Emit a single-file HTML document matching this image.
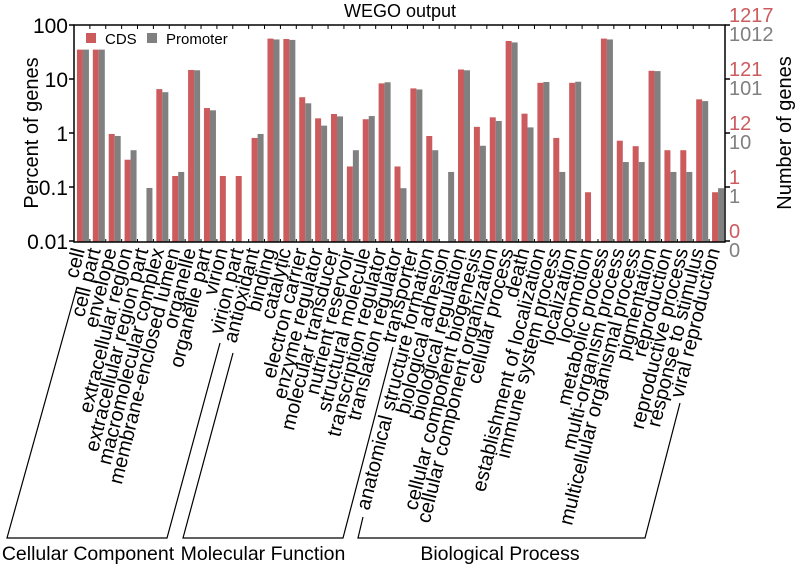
<!DOCTYPE html>
<html><head><meta charset="utf-8"><style>
body{margin:0;background:#fff;}
svg{display:block;font-family:"Liberation Sans",Arial,sans-serif;}
</style></head><body>
<svg id="chart" width="798" height="566" viewBox="0 0 798 566" xmlns="http://www.w3.org/2000/svg">
<text x="400" y="17" font-size="18" text-anchor="middle">WEGO output</text>
<text transform="translate(38,133) rotate(-90)" font-size="20" text-anchor="middle">Percent of genes</text>
<text transform="translate(791,133) rotate(-90)" font-size="20" text-anchor="middle">Number of genes</text>
<g>
<rect x="86" y="33" width="10" height="10" fill="#cc5b5e"/>
<text x="105" y="44" font-size="15">CDS</text>
<rect x="147" y="33" width="10" height="10" fill="#808080"/>
<text x="166" y="44" font-size="15">Promoter</text>
</g>
<g id="bars"></g>
<g id="axes"></g>
<g id="labels"></g>
<g fill="none" stroke="#000" stroke-width="1.2">
<polyline points="77,287 7,538 167,538 220,343"/>
<polyline points="233,353 183,538 343,538 393,347"/>
<polyline points="363,517 358,538 645,538 680,403"/>
</g>
<text x="88" y="560" font-size="19.5" text-anchor="middle">Cellular Component</text>
<text x="263" y="560" font-size="19.5" text-anchor="middle">Molecular Function</text>
<text x="500" y="560" font-size="19.5" text-anchor="middle">Biological Process</text>
</svg>
<script>
const categories=["cell","cell part","envelope","extracellular region","extracellular region part","macromolecular complex","membrane-enclosed lumen","organelle","organelle part","virion","virion part","antioxidant","binding","catalytic","electron carrier","enzyme regulator","molecular transducer","nutrient reservoir","structural molecule","transcription regulator","translation regulator","transporter","anatomical structure formation","biological adhesion","biological regulation","cellular component biogenesis","cellular component organization","cellular process","death","establishment of localization","immune system process","localization","locomotion","metabolic process","multi-organism process","multicellular organismal process","pigmentation","reproduction","reproductive process","response to stimulus","viral reproduction"];
const cdsValues=[35,35,0.96,0.32,0,6.5,0.16,14.7,2.9,0.16,0.16,0.81,56,55,4.6,1.87,2.25,0.24,1.8,8.3,0.24,6.7,0.88,0,15,1.3,1.95,50.6,2.28,8.5,0.81,8.5,0.08,56,0.72,0.57,14.2,0.48,0.48,4.2,0.08];
const promoterValues=[35,35,0.88,0.48,0.096,5.7,0.19,14.5,2.63,0,0,0.96,54,53,3.55,1.37,2.03,0.48,2.06,8.7,0.095,6.4,0.48,0.19,14.5,0.58,1.67,47.6,1.27,8.8,0.19,8.9,0,54,0.29,0.29,14,0.19,0.19,3.9,0.095];
const yTicks=[100,10,1,0.1,0.01];
const yTickLabels=["100","10","1","0.1","0.01"];
const cdsCountLabels=["1217","121","12","1","0"];
const promoterCountLabels=["1012","101","10","1","0"];
const NS="http://www.w3.org/2000/svg";
const X0=74,X1=725,YB=242;
const pitch=(X1-X0)/categories.length;
function xc(i){return X0+(i+0.5)*pitch;}
function y(v){return 133-54*Math.log10(v);}
function mk(tag,attrs,parent){const e=document.createElementNS(NS,tag);for(const k in attrs)e.setAttribute(k,attrs[k]);parent.appendChild(e);return e;}
const bars=document.getElementById('bars'),axes=document.getElementById('axes'),labels=document.getElementById('labels');
categories.forEach((c,i)=>{
  const cx=xc(i);
  if(cdsValues[i]>0){const yy=Math.max(y(cdsValues[i]),25);
    const r=mk('rect',{x:cx-5,y:yy,width:6,height:YB-yy,fill:'#cc5b5e'},bars);
    
    }
  if(promoterValues[i]>0){const yy=Math.max(y(promoterValues[i]),25);
    const r=mk('rect',{x:cx+1,y:yy,width:6,height:YB-yy,fill:'#808080'},bars);
    
    }
  const t=mk('text',{transform:`translate(${cx+3},250) rotate(-76)`,'font-size':'20','text-anchor':'end'},labels);
  t.textContent=c;
  
  
  mk('line',{x1:X0+i*pitch,x2:X0+i*pitch,y1:25,y2:29,stroke:'#000'},axes);
  mk('line',{x1:X0+i*pitch,x2:X0+i*pitch,y1:YB,y2:YB-3,stroke:'#000'},axes);
});
const frame=mk('rect',{x:X0,y:25,width:X1-X0,height:YB-25,fill:'none',stroke:'#000','stroke-width':1.5},axes);


yTicks.forEach((v,k)=>{
  const yy=y(v);
  mk('line',{x1:X0-5,x2:X0,y1:yy,y2:yy,stroke:'#000','stroke-width':1.5},axes);
  mk('line',{x1:X1,x2:X1+5,y1:yy,y2:yy,stroke:'#000','stroke-width':1.5},axes);
  const t=mk('text',{x:X0-6,y:yy+8,'font-size':'21','text-anchor':'end'},axes);
  t.textContent=yTickLabels[k];
  
  
  const a=mk('text',{x:X1+4,y:yy-3,'font-size':'20',fill:'#cc5b5e'},axes);
  a.textContent=cdsCountLabels[k];
  
  
  const b=mk('text',{x:X1+4,y:yy+16,'font-size':'20',fill:'#808080'},axes);
  b.textContent=promoterCountLabels[k];
  
  
});
</script>
</body></html>
